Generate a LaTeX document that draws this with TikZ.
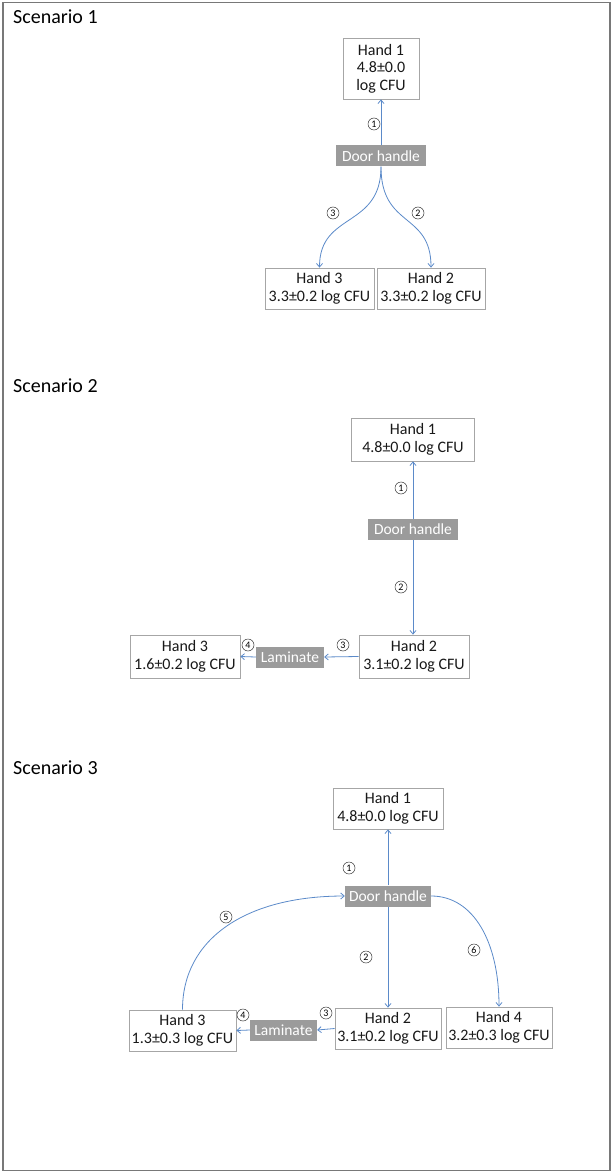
\documentclass[tikz,border=0pt]{standalone}
\usepackage{fontspec}
\setmainfont{Carlito}
\usetikzlibrary{arrows.meta}
\definecolor{lineblue}{RGB}{91,138,201}
\definecolor{boxgray}{RGB}{166,166,166}
\definecolor{dhgray}{RGB}{155,155,155}
\definecolor{framegray}{RGB}{120,120,120}
\begin{document}
\begin{tikzpicture}[x=1pt,y=-1pt,
 hand/.style={draw=boxgray, line width=0.8pt, fill=white, align=center, font=\fontsize{16}{18.5}\selectfont, inner sep=0pt, text=black!90},
 surf/.style={fill=dhgray, text=white, font=\fontsize{15.5}{17}\selectfont, inner sep=0pt, minimum height=21pt},
 conn/.style={draw=lineblue, line width=0.8pt, -{Straight Barb[length=3.5pt,width=6pt]}},
 num/.style={circle, draw=black!80, line width=0.5pt, inner sep=0pt, minimum size=12pt, font=\fontsize{10}{10}\selectfont},
 title/.style={anchor=base west, font=\fontsize{20}{24}\selectfont, inner sep=0pt}]

\useasboundingbox (0,0) rectangle (613,1174);
\draw[draw=framegray, line width=1.5pt] (3,2.5) rectangle (610,1170.5);

% ---------------- Scenario 1
\node[title] (t1) at (13,24) {Scenario 1};
\node[hand, minimum width=76pt, minimum height=61pt, font=\fontsize{16}{17.5}\selectfont] (a1) at (381,68.5) {Hand 1\\4.8±0.0\\log CFU};
\node[surf, minimum width=90pt] (d1) at (381,156) {Door handle};
\node[hand, minimum width=109pt, minimum height=41pt] (a3) at (319.5,288.5) {Hand 3\\3.3±0.2 log CFU};
\node[hand, minimum width=108pt, minimum height=41pt] (a2) at (431,288.5) {Hand 2\\3.3±0.2 log CFU};
\draw[conn] (d1.north) -- (a1.south);
\draw[conn] (d1.south) .. controls +(0,62) and +(0,-56) .. (a3.north);
\draw[conn] (d1.south) .. controls +(0,62) and +(0,-56) .. (a2.north);
\node[num] (n11) at (374,124) {1};
\node[num] (n13) at (333,213) {3};
\node[num] (n12) at (418,213) {2};

% ---------------- Scenario 2
\node[title] (t2) at (13,392) {Scenario 2};
\node[hand, minimum width=123pt, minimum height=43pt] (b1) at (413,439.5) {Hand 1\\4.8±0.0 log CFU};
\node[surf, minimum width=90pt] (d2) at (413,529.5) {Door handle};
\node[hand, minimum width=110pt, minimum height=43pt] (b2) at (414,656.5) {Hand 2\\3.1±0.2 log CFU};
\node[hand, minimum width=110pt, minimum height=43pt] (b3) at (185,656.5) {Hand 3\\1.6±0.2 log CFU};
\node[surf, minimum width=68pt] (l2) at (290,657) {Laminate};
\draw[conn] (d2.north) -- (b1.south);
\draw[conn] (d2.south) -- (d2.south |- b2.north);
\draw[conn] (b2.west) -- (l2.east);
\draw[conn] (l2.west) -- (b3.east);
\node[num] (n21) at (401,488) {1};
\node[num] (n22) at (401,587) {2};
\node[num] (n23) at (343,645) {3};
\node[num] (n24) at (248,645) {4};

% ---------------- Scenario 3
\node[title] (t3) at (13,774) {Scenario 3};
\node[hand, minimum width=110pt, minimum height=41pt] (c1) at (388,808.5) {Hand 1\\4.8±0.0 log CFU};
\node[surf, minimum width=86pt] (d3) at (388,896) {Door handle};
\node[hand, minimum width=106pt, minimum height=41pt] (c2) at (388,1028.5) {Hand 2\\3.1±0.2 log CFU};
\node[hand, minimum width=106pt, minimum height=41pt] (c4) at (499,1027.5) {Hand 4\\3.2±0.3 log CFU};
\node[hand, minimum width=107pt, minimum height=41pt] (c3) at (182.5,1030.5) {Hand 3\\1.3±0.3 log CFU};
\node[surf, minimum width=67pt] (l3) at (283.5,1030) {Laminate};
\draw[conn] (d3.north) -- (c1.south);
\draw[conn] (d3.south) -- (c2.north);
\draw[conn] (c2.west) -- (l3.east);
\draw[conn] (l3.west) -- (c3.east);
\draw[conn] (c3.north) .. controls +(0,-70) and +(-100,0) .. (d3.west);
\draw[conn] (d3.east) .. controls +(42,0) and +(0,-65) .. (c4.north);
\node[num] (n31) at (349,868) {1};
\node[num] (n35) at (226,917) {5};
\node[num] (n32) at (366,957) {2};
\node[num] (n36) at (474,950) {6};
\node[num] (n33) at (326,1013) {3};
\node[num] (n34) at (243,1015) {4};
\end{tikzpicture}
\end{document}
